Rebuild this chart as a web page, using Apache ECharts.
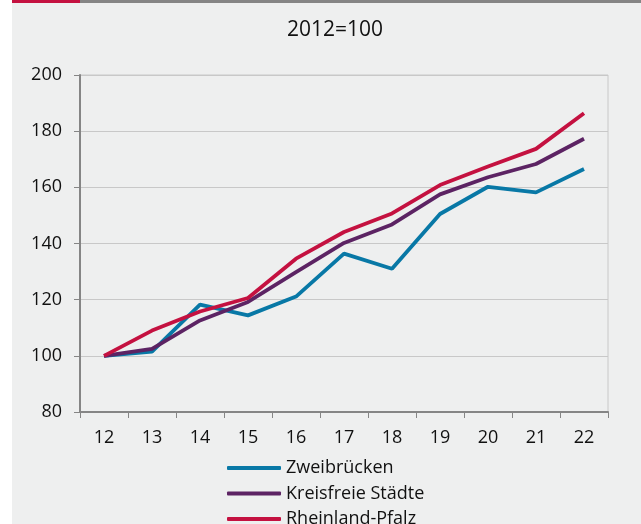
<!DOCTYPE html>
<html>
<head>
<meta charset="utf-8">
<script src="https://cdn.jsdelivr.net/npm/echarts@6/dist/echarts.min.js"></script>
<style>
  body { margin: 0; background: #ffffff; }
  #wrap { position: relative; width: 641px; height: 524px; overflow: hidden; }
  #bar-red { position: absolute; left: 12px; top: 0; width: 68px; height: 3px; background: #c41140; }
  #bar-gray { position: absolute; left: 80px; top: 0; width: 561px; height: 3px; background: #858585; }
  /* taller than the window so the legend stays in one column and is cut off at the bottom */
  #main { position: absolute; left: 12px; top: 3px; width: 629px; height: 600px; background: #eeefef; }
</style>
</head>
<body>
<div id="wrap">
  <div id="bar-red"></div>
  <div id="bar-gray"></div>
  <div id="main"></div>
</div>
<script>
// Jahre (2012 = 100)
var years = ['12', '13', '14', '15', '16', '17', '18', '19', '20', '21', '22'];
var zweibruecken = [100, 101.5, 118.2, 114.4, 121.1, 136.4, 131.0, 150.5, 160.2, 158.2, 166.5];
var kreisfreieStaedte = [100, 102.5, 112.6, 119.2, 129.8, 140.2, 146.8, 157.5, 163.6, 168.3, 177.3];
var rheinlandPfalz = [100, 109, 115.8, 120.6, 134.6, 144.1, 150.7, 160.8, 167.4, 173.7, 186.4];
var yTicks = [80, 100, 120, 140, 160, 180, 200];

var font = '"Open Sans", "Noto Sans", sans-serif';
var myChart = echarts.init(document.getElementById('main'));

function line(name, data, color) {
  return {
    name: name,
    type: 'line',
    data: data,
    symbol: 'none',
    lineStyle: { color: color, width: 3.8 },
    itemStyle: { color: color }
  };
}

myChart.setOption({
  animation: false,
  title: {
    text: '2012=100',
    left: 270,
    top: 12,
    textStyle: { fontFamily: font, fontSize: 21, fontWeight: 'normal', color: '#111' }
  },
  grid: {
    left: 68, right: 33, top: 72, bottom: 191,
    show: true, borderColor: '#c8c8c8', borderWidth: 1
  },
  legend: {
    orient: 'vertical',
    left: 215,
    top: 455,
    padding: 0,
    icon: 'roundRect',
    itemWidth: 54,
    itemHeight: 4,
    itemGap: 5.5,
    textStyle: { fontFamily: font, fontSize: 18, color: '#111', lineHeight: 20 },
    data: ['Zweibrücken', 'Kreisfreie Städte', 'Rheinland-Pfalz']
  },
  xAxis: {
    type: 'category',
    data: years,
    boundaryGap: true,
    axisLine: { lineStyle: { color: '#858585', width: 2 } },
    axisTick: { show: true, length: 6, lineStyle: { color: '#858585' } },
    axisLabel: { fontFamily: font, fontSize: 18, color: '#111', margin: 17 },
    splitLine: { show: false }
  },
  yAxis: {
    type: 'value',
    min: yTicks[0],
    max: yTicks[yTicks.length - 1],
    interval: 20,
    axisLine: { show: true, lineStyle: { color: '#858585', width: 2 } },
    axisTick: { show: true, length: 6, lineStyle: { color: '#858585' } },
    axisLabel: { fontFamily: font, fontSize: 18, color: '#111', margin: 18 },
    splitLine: { lineStyle: { color: '#c8c8c8', width: 1 } }
  },
  series: [
    line('Zweibrücken', zweibruecken, '#0878a6'),
    line('Kreisfreie Städte', kreisfreieStaedte, '#5c2363'),
    line('Rheinland-Pfalz', rheinlandPfalz, '#c41140')
  ]
});
</script>
</body>
</html>
